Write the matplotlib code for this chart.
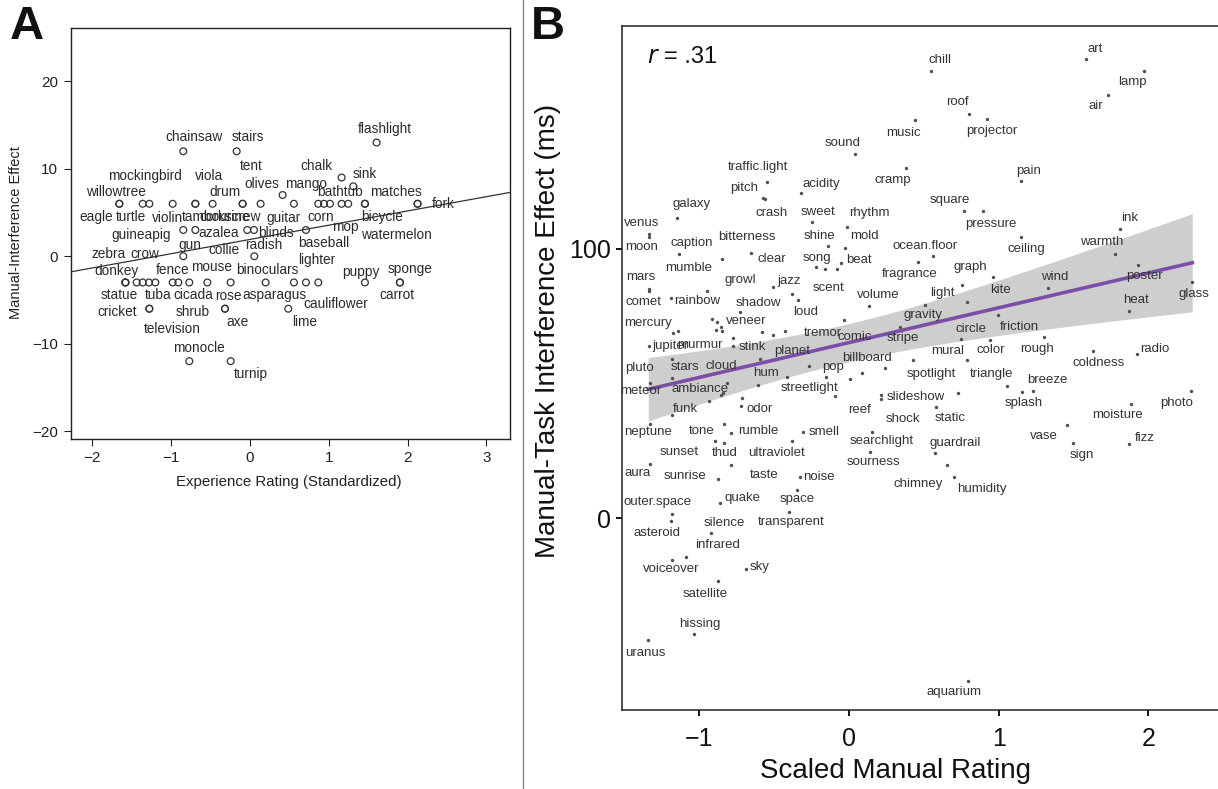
import numpy as np
import matplotlib
matplotlib.use("Agg")
import matplotlib.pyplot as plt

# ---------------- data: panel A ----------------
a_words = ["flashlight", "chainsaw", "stairs", "chalk", "sink", "mango",
           "willowtree", "eagle", "turtle", "mockingbird", "violin", "viola", "tambourine",
           "drum", "corkscrew", "tent", "olives", "guitar", "corn", "bathtub", "", "",
           "mop", "bicycle", "watermelon", "matches", "fork",
           "guineapig", "azalea", "radish", "blinds", "baseball",
           "gun", "collie",
           "statue", "donkey", "zebra", "crow", "", "", "tuba", "", "fence", "cicada",
           "mouse", "rose", "binoculars", "asparagus", "lighter", "cauliflower", "puppy",
           "sponge", "carrot",
           "cricket", "television", "axe", "shrub", "lime",
           "monocle", "turnip"]
a_x = [1.607, -0.846, -0.169, 1.163, 1.311, 0.414,
       -1.658, -1.658, -1.362, -1.277, -0.981, -0.693, -0.693,
       -0.474, -0.093, -0.093, 0.135, 0.558, 0.867, 0.939, 1.015, 1.163,
       1.247, 1.459, 1.459, 2.127, 2.127,
       -0.846, -0.693, -0.034, 0.051, 0.710,
       -0.846, 0.055,
       -1.581, -1.581, -1.581, -1.438, -1.362, -1.281, -1.201, -0.981, -0.909, -0.770,
       -0.541, -0.245, 0.199, 0.558, 0.710, 0.867, 1.459,
       1.903, 1.903,
       -1.277, -1.277, -0.317, -0.317, 0.486,
       -0.770, -0.245]
a_y = [13, 12, 12, 9, 8, 7,
       6, 6, 6, 6, 6, 6, 6,
       6, 6, 6, 6, 6, 6, 6, 6, 6,
       6, 6, 6, 6, 6,
       3, 3, 3, 3, 3,
       0, 0,
       -3, -3, -3, -3, -3, -3, -3, -3, -3, -3,
       -3, -3, -3, -3, -3, -3, -3,
       -3, -3,
       -6, -6, -6, -6, -6,
       -12, -12]
a_line_intercept = 1.92
a_line_slope = 1.63
a_xticks = [-2, -1, 0, 1, 2, 3]
a_yticks = [-20, -10, 0, 10, 20]

# label offsets (layout, pixels)
a_off = [(8, 14), (11, 14), (11, 14), (-25, 12), (12, 12), (23, 11),
         (-3, 12), (-23, -13), (-12, -13), (-4, 28), (-5, -14), (14, 28), (21, -13),
         (12, 12), (-13, -13), (9, 38), (1, 20), (-10, -14), (2, -13), (16, 12), (0, 0), (0, 0),
         (-3, -23), (17, -13), (31, -31), (-22, 12), (26, 0),
         (-42, -5), (23, -3), (16, -15), (22, -3), (18, -13),
         (7, 11), (-30, 6),
         (-6, -13), (-9, 11), (-17, 28), (8, 28), (0, 0), (0, 0), (3, -13), (0, 0), (-6, 12), (4, -13),
         (4, 15), (-2, -14), (2, 12), (-19, -13), (11, 22), (17, -22), (-4, 10),
         (10, 13), (-3, -13),
         (-32, -3), (23, -20), (13, -13), (-32, -3), (16, -13),
         (10, 13), (20, -13)]

# ---------------- data: panel B ----------------
b_words = ["art", "lamp", "air", "chill", "roof", "projector", "music", "sound", "cramp", "pain",
           "traffic.light", "pitch", "crash", "acidity", "square", "pressure", "galaxy", "sweet",
           "rhythm", "venus", "moon", "bitterness", "shine", "mold", "caption", "clear",
           "ocean.floor", "fragrance", "ceiling", "ink", "warmth", "song", "beat", "scent", "",
           "graph", "kite", "light", "wind", "poster", "glass", "heat", "mars", "comet",
           "rainbow", "mumble", "growl", "jazz", "loud", "volume", "shadow", "mercury", "",
           "veneer", "", "", "", "", "", "", "tremor", "comic", "stripe", "gravity",
           "jupiter", "murmur", "stink", "planet", "pluto", "stars", "cloud", "hum", "pop",
           "billboard", "", "", "", "streetlight", "spotlight", "reef", "slideshow", "",
           "shock", "static", "meteor", "ambiance", "", "", "", "funk", "odor", "neptune",
           "tone", "rumble", "smell", "thud", "sunset", "ultraviolet", "aura", "sunrise",
           "taste", "noise", "outer.space", "quake", "space", "asteroid", "silence",
           "transparent", "infrared", "voiceover", "sky", "satellite", "hissing", "uranus",
           "aquarium", "searchlight", "sourness", "guardrail", "chimney", "humidity",
           "mural", "circle", "color", "friction", "rough", "coldness", "radio", "triangle",
           "breeze", "splash", "photo", "moisture", "vase", "sign", "fizz"]
b_x = [1.583, 1.971, 1.732, 0.548, 0.804, 0.924, 0.441, 0.042, 0.381, 1.147,
       -0.548, -0.572, -0.561, -0.319, 0.770, 0.897, -1.147, -0.247,
       -0.015, -1.334, -1.334, -0.850, -0.140, -0.027, -1.138, -0.655,
       0.559, 0.461, 1.147, 1.810, 1.777, -0.220, -0.078, -0.160, -0.055,
       0.753, 0.960, 0.786, 1.327, 1.929, 2.293, 1.872, -1.334, -1.334,
       -1.191, -0.947, -0.510, -0.383, -0.343, 0.136, -0.728, -1.174, -1.140,
       -0.884, -0.917, -0.857, -0.888, -0.850, -0.583, -0.510, -0.428, -0.033, 0.341, 0.508,
       -1.334, -0.773, -0.773, -0.595, -1.184, -1.184, -0.817, -0.606, -0.265,
       0.240, -0.154, 0.007, 0.089, -0.416, 0.430, -0.094, 0.214, 0.214,
       0.581, 0.728, -1.329, -0.844, -0.857, -0.933, -0.717, -1.184, -0.723, -1.329,
       -0.835, -0.788, -0.309, -0.835, -0.895, -0.383, -1.329, -0.873,
       -0.788, -0.327, -1.184, -0.862, -0.347, -1.191, -0.924,
       -0.401, -1.089, -1.182, -0.690, -0.873, -1.035, -1.341,
       0.793, 0.154, 0.140, 0.574, 0.657, 0.701,
       0.786, 0.748, 0.942, 0.993, 1.303, 1.632, 1.922, 1.053,
       1.231, 1.156, 2.283, 1.884, 1.454, 1.498, 1.872]
b_y = [170.6, 166.3, 157.2, 166.2, 150.2, 148.3, 147.9, 135.3, 130.2, 125.4,
       124.9, 119.1, 118.6, 120.7, 114.2, 114.2, 111.5, 110.0,
       108.1, 105.6, 104.6, 96.3, 101.1, 100.2, 98.1, 98.4,
       97.4, 95.3, 104.6, 107.3, 98.1, 93.2, 92.7, 92.4, 94.7,
       86.6, 89.5, 80.2, 85.6, 93.9, 87.8, 76.8, 85.1, 84.4,
       81.7, 84.5, 85.8, 83.3, 81.0, 78.8, 76.7, 68.7, 69.5,
       72.7, 73.9, 71.1, 69.9, 69.6, 69.0, 68.0, 69.5, 73.6, 71.0, 79.2,
       63.9, 66.8, 63.9, 59.0, 59.0, 51.9, 50.1, 49.4, 56.5,
       55.6, 52.5, 51.6, 54.0, 52.5, 58.7, 45.3, 45.7, 44.4,
       41.4, 46.4, 50.2, 46.6, 45.7, 43.5, 44.5, 38.3, 41.6, 34.9,
       34.9, 31.5, 31.9, 27.8, 28.7, 28.7, 20.1, 14.4,
       19.7, 15.4, 1.5, 5.5, 10.4, -1.0, -5.7,
       2.2, -14.4, -15.6, -19.1, -23.4, -43.2, -45.3,
       -60.6, 32.0, 24.5, 24.0, 19.7, 15.4,
       58.7, 66.5, 66.2, 75.5, 67.2, 62.2, 61.0, 49.1,
       47.3, 46.8, 47.3, 42.3, 34.6, 27.8, 27.4]
b_r_text = "= .31"
b_xticks = [-1, 0, 1, 2]
b_yticks = [0, 100]

# label offsets (layout, pixels)
b_off = [(9, 10), (-12, -11), (-12, -11), (9, 11), (-12, 12), (4, -12), (-12, -13), (-13, 11), (-13, -12), (8, 10),
         (-9, 15), (-19, 10), (7, -14), (20, 9), (-14, 11), (8, -13), (14, 14), (6, 10),
         (23, 14), (-8, 11), (-8, -10), (25, 22), (-9, 10), (20, 12), (13, 11), (21, -6),
         (-8, 10), (-8, -12), (6, -12), (10, 11), (-13, 12), (1, 9), (22, 9), (3, -19), (0, 0),
         (9, 18), (8, -13), (-24, 9), (7, 11), (7, -11), (2, -12), (7, 11), (-9, 12), (-6, -11),
         (26, -3), (-19, 23), (-32, 7), (-3, 13), (8, -12), (9, 11), (18, 9), (-25, 10), (0, 0),
         (30, 1), (0, 0), (0, 0), (0, 0), (0, 0), (0, 0), (0, 0), (38, -2), (11, -17), (3, -11), (-2, -10),
         (21, 0), (-33, -7), (19, -1), (32, 8), (-32, -9), (13, 11), (-5, 17), (8, 12), (24, -1),
         (-18, 10), (0, 0), (0, 0), (0, 0), (23, -11), (18, -14), (25, -14), (35, -2), (0, 0),
         (-33, -12), (-8, -25), (-9, -8), (-23, 4), (0, 0), (0, 0), (0, 0), (14, 6), (19, -3), (-2, -8),
         (-22, -7), (27, 2), (21, 0), (1, -10), (-36, -11), (-15, -12), (-12, -9), (-33, 3),
         (33, -10), (19, 0), (-14, 12), (23, 5), (0, -9), (-14, -12), (14, 10),
         (2, -10), (32, 12), (-1, -9), (14, 2), (-13, -13), (6, 10), (-3, -13),
         (-14, -11), (10, -9), (4, -10), (20, 10), (-29, -19), (28, -12),
         (-19, 9), (10, 10), (1, -10), (22, -12), (-7, -12), (5, -12), (18, 5), (-15, 12),
         (14, 11), (2, -11), (-14, -12), (-14, -11), (-23, -11), (9, -12), (16, 6)]

# ---------------- fonts ----------------
plt.rcParams["font.family"] = ["Liberation Sans", "DejaVu Sans"]
plt.rcParams["axes.unicode_minus"] = True

fig = plt.figure(figsize=(12.18, 7.89), dpi=100)
W, H = 1218.0, 789.0

def rect(l, t, r, b):
    return [l / W, 1 - b / H, (r - l) / W, (b - t) / H]

# ---------------- panel A ----------------
axA = fig.add_axes(rect(70.7, 28, 510, 439))
axA.set_xlim(-2.275, 3.30)
axA.set_ylim(-20.9, 26.1)
axA.scatter(a_x, a_y, s=24, facecolors="none", edgecolors="#333333", linewidths=0.9, zorder=3)
xx = np.array(axA.get_xlim())
axA.plot(xx, a_line_intercept + a_line_slope * xx, color="#333333", lw=0.9, zorder=2)
for w, x, y, (dx, dy) in zip(a_words, a_x, a_y, a_off):
    if w:
        axA.annotate(w, (x, y), xytext=(dx, dy), textcoords="offset pixels",
                     ha="center", va="center", fontsize=9.8, color="#2a2a2a", zorder=4)
axA.set_xticks(a_xticks)
axA.set_yticks(a_yticks)
axA.tick_params(direction="out", length=5, width=0.8, labelsize=11, pad=4, colors="#222222")
for s in axA.spines.values():
    s.set_linewidth(1.0)
    s.set_color("#222222")
fig.text(289 / W, 1 - 482 / H, "Experience Rating (Standardized)", ha="center", va="center",
         fontsize=10.8, color="#222222")
fig.text(16 / W, 1 - 233 / H, "Manual-Interference Effect", ha="center", va="center",
         rotation=90, fontsize=10.5, color="#222222")

# ---------------- panel B ----------------
axB = fig.add_axes(rect(622, 26, 1220, 710))
axB.set_xlim((622 - 849) / 149.7, (1220 - 849) / 149.7)
axB.set_ylim((518 - 710) / 2.69, (518 - 26) / 2.69)
bx = np.array(b_x)
by = np.array(b_y)
slope, intercept = np.polyfit(bx, by, 1)
n = len(bx)
resid = by - (intercept + slope * bx)
s_err = np.sqrt(np.sum(resid ** 2) / (n - 2))
sxx = np.sum((bx - bx.mean()) ** 2)
grid = np.linspace(bx.min(), bx.max(), 100)
fit = intercept + slope * grid
se = s_err * np.sqrt(1.0 / n + (grid - bx.mean()) ** 2 / sxx)
tval = 1.978
axB.fill_between(grid, fit - tval * se, fit + tval * se, color="#9e9e9e", alpha=0.5, lw=0, zorder=1)
axB.plot(grid, fit, color="#7b4fa6", lw=2.6, zorder=2)
axB.scatter(bx, by, s=6, color="#505050", lw=0, zorder=3)
for w, x, y, (dx, dy) in zip(b_words, b_x, b_y, b_off):
    if w:
        axB.annotate(w, (x, y), xytext=(dx, dy), textcoords="offset pixels",
                     ha="center", va="center", fontsize=9.5, color="#333333", zorder=4)
axB.text(0.042, 0.955, "$r$", transform=axB.transAxes, fontsize=17, ha="left", va="center",
         color="#111111")
axB.text(0.070, 0.955, b_r_text, transform=axB.transAxes, fontsize=17, ha="left", va="center",
         color="#111111")
axB.set_xticks(b_xticks)
axB.set_yticks(b_yticks)
axB.tick_params(direction="out", length=4, width=1.4, labelsize=18, colors="#111111")
axB.tick_params(axis="x", pad=8)
axB.tick_params(axis="y", pad=4)
for s in axB.spines.values():
    s.set_linewidth(1.1)
    s.set_color("#222222")
fig.text(895 / W, 1 - 771 / H, "Scaled Manual Rating", ha="center", va="center",
         fontsize=20, color="#111111")
fig.text(548 / W, 1 - 331 / H, "Manual-Task Interference Effect (ms)", ha="center", va="center",
         rotation=90, fontsize=20, color="#111111")

# panel letters and divider
fig.text(27 / W, 1 - 27 / H, "A", ha="center", va="center", fontsize=34, fontweight="bold",
         color="#111111")
fig.text(548 / W, 1 - 27 / H, "B", ha="center", va="center", fontsize=34, fontweight="bold",
         color="#111111")
fig.add_artist(plt.Line2D([523 / W, 523 / W], [0, 1], color="#888888", lw=1.0))

fig.savefig("out.png", dpi=100)
